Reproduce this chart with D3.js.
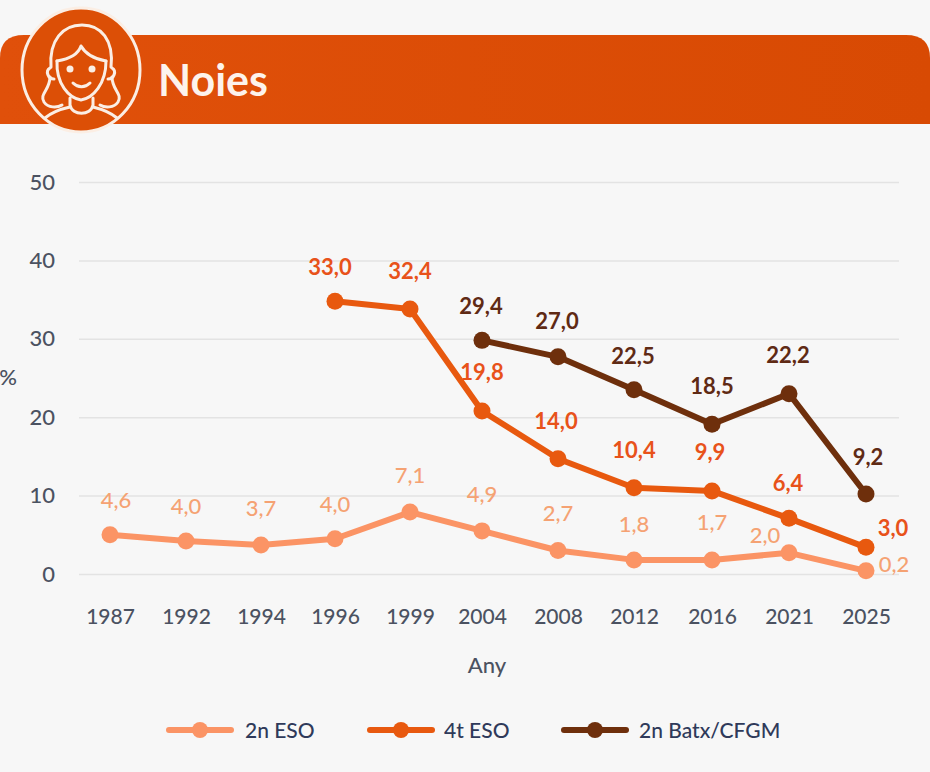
<!DOCTYPE html>
<html lang="ca"><head><meta charset="utf-8">
<title>Noies</title>
<script src="https://cdn.jsdelivr.net/npm/d3@7"></script>
<style>
  html, body { margin: 0; padding: 0; background: #f7f7f7; overflow: hidden; }
  text { font-family: Lato, "Open Sans", sans-serif; }
</style>
</head>
<body>
<script>
    // years on the x axis
    var years = ["1987","1992","1994","1996","1999","2004","2008","2012","2016","2021","2025"];
    var yTicks = [0, 10, 20, 30, 40, 50];
    var seriesNames = ["2n ESO", "4t ESO", "2n Batx/CFGM"];

    // values where the points sit in the picture
    var eso2 = [5.0, 4.2, 3.7, 4.5, 7.9, 5.5, 3.0, 1.8, 1.8, 2.7, 0.4];
    var eso4 = [null, null, null, 34.8, 33.8, 20.8, 14.7, 11.0, 10.6, 7.1, 3.4];
    var batx = [null, null, null, null, null, 29.8, 27.7, 23.5, 19.1, 23.0, 10.2];

    // the printed labels (they do not quite agree with the points)
    var eso2Labels = ["4,6","4,0","3,7","4,0","7,1","4,9","2,7","1,8","1,7","2,0","0,2"];
    var eso4Labels = [null,null,null,"33,0","32,4","19,8","14,0","10,4","9,9","6,4","3,0"];
    var batxLabels = [null,null,null,null,null,"29,4","27,0","22,5","18,5","22,2","9,2"];

    var width = 930;
    var height = 772;

    var x = d3.scaleOrdinal().domain(years)
        .range([110, 186, 261, 335, 410, 482, 558, 634, 712, 789, 866]);
    var y = d3.scaleLinear().domain([0, 50]).range([574, 182]);

    var svg = d3.select("body").append("svg")
        .attr("width", width)
        .attr("height", height)
        .style("display", "block");

    var defs = svg.append("defs");
    var grad = defs.append("linearGradient").attr("id", "banner");
    grad.append("stop").attr("offset", "0%").attr("stop-color", "#e0500a");
    grad.append("stop").attr("offset", "100%").attr("stop-color", "#d84a03");

    // banner
    svg.append("path")
        .attr("d", "M0,124V58Q0,35 24,35H906Q930,35 930,58V124Z")
        .attr("fill", "url(#banner)");

    // badge with the girl's face
    var badge = svg.append("g").attr("transform", "translate(81,70)");
    badge.append("ellipse").attr("rx", 59).attr("ry", 62)
        .attr("fill", "#dc4f06").attr("stroke", "#fbeee4").attr("stroke-width", 3);
    var face = badge.append("g").attr("fill", "none").attr("stroke", "#fbeee4")
        .attr("stroke-width", 3).attr("stroke-linecap", "round").attr("stroke-linejoin", "round");
    face.append("path").attr("d", "M-30,-3C-32,-30 -18,-45 1,-45C20,-45 33,-30 30,-3");
    face.append("path").attr("d", "M-24,-9C-12,-11 -3,-15 0,-24C5,-15 14,-11 25,-9");
    face.append("path").attr("d", "M-24,-9C-25,14 -12,28 0,30C12,28 25,14 25,-9");
    face.append("path").attr("d", "M-31,-2C-36,1 -33,9 -27,9");
    face.append("path").attr("d", "M31,-2C36,1 33,9 27,9");
    face.append("path").attr("d", "M-31,7C-31,20 -42,24 -37,32C-33,38 -24,38 -19,35");
    face.append("path").attr("d", "M31,7C31,20 42,24 37,32C33,38 24,38 19,35");
    face.append("path").attr("d", "M-11,28V35C-9,46 10,46 12,35V28");
    face.append("path").attr("d", "M-36,48C-29,42 -20,39 -11,37");
    face.append("path").attr("d", "M36,48C29,42 20,39 12,37");
    face.append("path").attr("d", "M-8,13C-3,18 4,18 9,13");
    badge.append("circle").attr("cx", -11).attr("cy", -1).attr("r", 3.5).attr("fill", "#fbeee4");
    badge.append("circle").attr("cx", 11).attr("cy", -1).attr("r", 3.5).attr("fill", "#fbeee4");

    svg.append("text")
        .attr("x", 158).attr("y", 96)
        .attr("font-size", 43).attr("font-weight", 700)
        .attr("fill", "#fdf3ec")
        .text("Noies");

    // grid and y axis
    var yAxis = d3.axisLeft(y).tickValues(yTicks).tickSize(-820).tickPadding(24);
    var yG = svg.append("g").attr("transform", "translate(79,0)").call(yAxis);
    yG.select(".domain").remove();
    yG.selectAll("line").attr("stroke", "#e3e3e3").attr("stroke-width", 1.5);
    yG.selectAll("text").attr("font-size", 22).attr("font-weight", 500).attr("fill", "#4b5261");

    svg.append("text").attr("x", 8).attr("y", 385)
        .attr("text-anchor", "middle")
        .attr("font-size", 22).attr("font-weight", 500).attr("fill", "#4b5261").text("%");

    // x axis, no line and no ticks
    var xAxis = d3.axisBottom(x).tickSize(0).tickPadding(0);
    var xG = svg.append("g").attr("transform", "translate(0,609)").call(xAxis);
    xG.select(".domain").remove();
    xG.selectAll("text").attr("font-size", 21).attr("font-weight", 500).attr("fill", "#4b5261");

    svg.append("text").attr("x", 487).attr("y", 673)
        .attr("text-anchor", "middle")
        .attr("font-size", 22).attr("font-weight", 500).attr("fill", "#4b5261").text("Any");

    var line = d3.line()
        .defined(function (d) { return d.v !== null; })
        .x(function (d) { return x(d.year); })
        .y(function (d) { return y(d.v); });

    function drawSeries(values, labels, color, labelColor, labelWeight, shifts) {
        var rows = values.map(function (v, i) {
            return { year: years[i], v: v, label: labels[i], dx: shifts[years[i]][0], dy: shifts[years[i]][1] };
        });
        // rows without a value have no shift either, so build them only for present years
        var g = svg.append("g");
        g.append("path").datum(rows)
            .attr("d", line)
            .attr("fill", "none")
            .attr("stroke", color)
            .attr("stroke-width", 6)
            .attr("stroke-linejoin", "round");
        var present = rows.filter(function (d) { return d.v !== null; });
        g.selectAll("circle").data(present).enter().append("circle")
            .attr("cx", function (d) { return x(d.year); })
            .attr("cy", function (d) { return y(d.v); })
            .attr("r", 8.5)
            .attr("fill", color);
        g.selectAll("text").data(present).enter().append("text")
            .attr("x", function (d) { return x(d.year) + d.dx; })
            .attr("y", function (d) { return y(d.v) + d.dy; })
            .attr("text-anchor", "middle")
            .attr("font-size", 22)
            .attr("font-weight", labelWeight)
            .attr("fill", labelColor)
            .text(function (d) { return d.label; });
    }

    // label offsets from the point
    var noShift = { "1987": [0, 0], "1992": [0, 0], "1994": [0, 0], "1996": [0, 0], "1999": [0, 0] };
    drawSeries(eso2, eso2Labels, "#fb9465", "#f5a273", 500, {
        "1987": [6, -27], "1992": [0, -27], "1994": [0, -29], "1996": [0, -27],
        "1999": [0, -29], "2004": [0, -29], "2008": [0, -29], "2012": [0, -28],
        "2016": [0, -30], "2021": [-24, -10], "2025": [28, 1]
    });
    drawSeries(eso4, eso4Labels, "#e8590f", "#e8521a", 700, Object.assign({}, noShift, {
        "1996": [-5, -26], "1999": [0, -30], "2004": [0, -31], "2008": [-2, -30],
        "2012": [0, -30], "2016": [-2, -31], "2021": [-1, -27], "2025": [27, -11]
    }));
    drawSeries(batx, batxLabels, "#6e2f0c", "#5f2a14", 700, Object.assign({}, noShift, {
        "2004": [-1, -26], "2008": [-1, -28], "2012": [-1, -26], "2016": [0, -30],
        "2021": [-1, -31], "2025": [2, -29]
    }));

    // legend
    var legendX = [169, 370, 564];
    var legendTextX = [76, 74, 75];
    var legendColors = ["#fb9465", "#e8590f", "#6e2f0c"];
    var legend = svg.selectAll(".legend").data(seriesNames).enter().append("g")
        .attr("class", "legend")
        .attr("transform", function (d, i) { return "translate(" + legendX[i] + ",730)"; });
    legend.append("line").attr("x1", 0).attr("x2", 62)
        .attr("stroke", function (d, i) { return legendColors[i]; })
        .attr("stroke-width", 6).attr("stroke-linecap", "round");
    legend.append("circle").attr("cx", 31).attr("r", 8)
        .attr("fill", function (d, i) { return legendColors[i]; });
    legend.append("text").attr("x", function (d, i) { return legendTextX[i]; }).attr("y", 8)
        .attr("font-size", 21).attr("font-weight", 500).attr("fill", "#2f3a5a")
        .text(function (d) { return d; });
</script>
</body></html>
